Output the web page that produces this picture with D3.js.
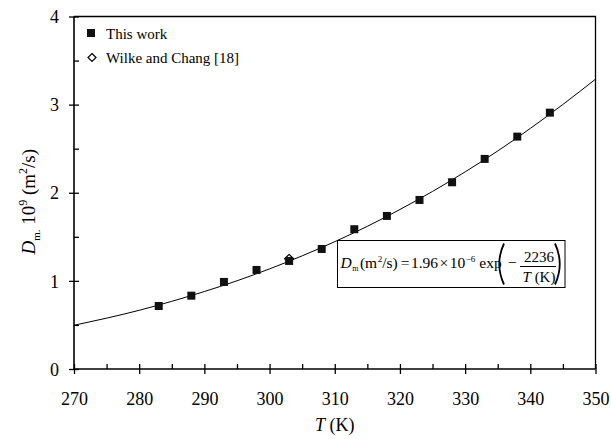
<!DOCTYPE html>
<html>
<head>
<meta charset="utf-8">
<script src="https://cdn.jsdelivr.net/npm/d3@7"></script>
<style>
  body { margin: 0; background: #fff; }
  svg { display: block; font-family: "Liberation Serif", "Times New Roman", serif; }
  text { font-family: "Liberation Serif", "Times New Roman", serif; fill: #000; }
</style>
</head>
<body>
<svg id="chart" width="611" height="439"></svg>
<script>
// ---- data ----
const thisWorkT = [283, 288, 293, 298, 303, 308, 313, 318, 323, 328, 333, 338, 343];
const thisWorkD = [0.715, 0.832, 0.988, 1.124, 1.226, 1.362, 1.586, 1.737, 1.918, 2.119, 2.384, 2.637, 2.909];
const wilkeT = [303];
const wilkeD = [1.25];
// fitted curve
const fitT = [270, 275, 280, 285, 290, 295, 300, 305, 310, 315, 320, 325, 330, 335, 340, 345, 350];
const fitD = [0.496, 0.577, 0.666, 0.768, 0.879, 1.001, 1.136, 1.284, 1.445, 1.619, 1.810, 2.015, 2.237, 2.474, 2.730, 3.002, 3.289];
const xMajorTicks = [270, 280, 290, 300, 310, 320, 330, 340, 350];
const xMinorTicks = [275, 285, 295, 305, 315, 325, 335, 345];
const yMajorTicks = [0, 1, 2, 3, 4];
const yMinorTicks = [0.5, 1.5, 2.5, 3.5];
const legendLabels = ["This work", "Wilke and Chang [18]"];

// ---- layout ----
const FONT = "Liberation Serif";
const svg = d3.select("#chart");
const L = 74, R = 595.5, T = 16.5, B = 369;
const x = d3.scaleLinear().domain([270, 350]).range([L, R]);
const y = d3.scaleLinear().domain([0, 4]).range([B, T]);

// frame (top & right)
svg.append("path")
  .attr("d", `M${L},${T}H${R}V${B}`)
  .attr("fill", "none").attr("stroke", "#000").attr("stroke-width", 1.3);

// x axis
const gx = svg.append("g").attr("transform", `translate(0,${B})`);
gx.call(d3.axisBottom(x).tickValues(xMajorTicks).tickSize(5).tickFormat(d3.format("d")));
gx.attr("font-family", FONT);
gx.selectAll(".tick line").attr("y1", -5).attr("y2", 5).attr("stroke-width", 1.3);
gx.selectAll(".tick text").attr("y", 36).attr("dy", 0).style("font-size", "18px")
  .style("font-family", FONT);
gx.select(".domain").attr("d", `M${L},0H${R}`).attr("stroke-width", 1.6);
const gxm = svg.append("g").attr("transform", `translate(0,${B})`);
gxm.call(d3.axisBottom(x).tickValues(xMinorTicks).tickSize(-5).tickFormat(""));
gxm.select(".domain").remove();
gxm.selectAll(".tick line").attr("stroke-width", 1.3);

// y axis
const gy = svg.append("g").attr("transform", `translate(${L},0)`);
gy.call(d3.axisLeft(y).tickValues(yMajorTicks).tickSize(5).tickFormat(d3.format("d")));
gy.attr("font-family", FONT);
gy.selectAll(".tick line").attr("x1", -5).attr("x2", 5).attr("stroke-width", 1.3);
gy.selectAll(".tick text").attr("x", -15).attr("dy", "0.34em").style("font-size", "18px")
  .style("font-family", FONT);
gy.select(".domain").attr("d", `M0,${B}V${T}`).attr("stroke-width", 1.6);
const gym = svg.append("g").attr("transform", `translate(${L},0)`);
gym.call(d3.axisLeft(y).tickValues(yMinorTicks).tickSize(-5).tickFormat(""));
gym.select(".domain").remove();
gym.selectAll(".tick line").attr("stroke-width", 1.3);

// axis titles
const xt = svg.append("text").attr("x", (L + R) / 2).attr("y", 431)
  .attr("text-anchor", "middle").style("font-size", "18px");
xt.append("tspan").style("font-style", "italic").text("T");
xt.append("tspan").text(" (K)");

const yt = svg.append("text")
  .attr("transform", `translate(35,${(T + B) / 2 + 9}) rotate(-90)`)
  .attr("text-anchor", "middle").style("font-size", "19px");
yt.append("tspan").style("font-style", "italic").text("D");
yt.append("tspan").attr("dy", 5).style("font-size", "11px").text("m.");
yt.append("tspan").attr("dy", -5).text(" 10");
yt.append("tspan").attr("dy", -8).style("font-size", "12px").text("9");
yt.append("tspan").attr("dy", 8).text(" (m");
yt.append("tspan").attr("dy", -8).style("font-size", "12px").text("2");
yt.append("tspan").attr("dy", 8).text("/s)");

// fit curve
const fit = fitT.map((t, i) => [t, fitD[i]]);
svg.append("path").datum(fit)
  .attr("d", d3.line().x(d => x(d[0])).y(d => y(d[1])).curve(d3.curveMonotoneX))
  .attr("fill", "none").attr("stroke", "#000").attr("stroke-width", 1);

// Wilke & Chang diamonds (drawn under the squares)
const wc = wilkeT.map((t, i) => [t, wilkeD[i]]);
svg.selectAll(".wc").data(wc).join("path").attr("class", "wc")
  .attr("transform", d => `translate(${x(d[0])},${y(d[1])})`)
  .attr("d", "M0,-4.5L4.5,0L0,4.5L-4.5,0Z")
  .attr("fill", "#fff").attr("stroke", "#000").attr("stroke-width", 1.2);

// This work squares
const tw = thisWorkT.map((t, i) => [t, thisWorkD[i]]);
svg.selectAll(".tw").data(tw).join("rect").attr("class", "tw")
  .attr("x", d => x(d[0]) - 4).attr("y", d => y(d[1]) - 4)
  .attr("width", 8).attr("height", 8).attr("fill", "#111");

// legend
const lg = svg.append("g");
lg.append("rect").attr("x", 87).attr("y", 29).attr("width", 8).attr("height", 8).attr("fill", "#111");
lg.append("path").attr("transform", "translate(92,57.5)").attr("d", "M0,-4L4,0L0,4L-4,0Z")
  .attr("fill", "#fff").attr("stroke", "#000").attr("stroke-width", 1.2);
lg.append("text").attr("x", 106).attr("y", 38.5).style("font-size", "15px").text(legendLabels[0]);
lg.append("text").attr("x", 106).attr("y", 62.5).style("font-size", "15px").text(legendLabels[1]);

// equation box
const eq = svg.append("g");
eq.append("rect").attr("x", 337.5).attr("y", 240.5).attr("width", 227.5).attr("height", 47)
  .attr("fill", "#fff").attr("stroke", "#000").attr("stroke-width", 1);
const base = 268;
let cx = 340.5;
function piece(str, size, italic, dyv, gapAfter) {
  const t = eq.append("text").attr("x", cx).attr("y", base + dyv)
    .style("font-size", size + "px").style("font-style", italic ? "italic" : "normal").text(str);
  cx += t.node().getComputedTextLength() + gapAfter;
}
piece("D", 15.5, true, 0, 0.5);
piece("m", 8, false, 2.5, 1.5);
piece("(m", 15.5, false, 0, 0.5);
piece("2", 9, false, -6.5, 0);
piece("/s)", 15.5, false, 0, 3);
piece("=", 15.5, false, 0, 1.5);
piece("1.96", 15.5, false, 0, 1.5);
piece("×", 15.5, false, 0, 1.5);
piece("10", 15.5, false, 0, 0.5);
piece("−6", 9, false, -6.5, 4);
piece("exp", 15.5, false, 0, 0);
eq.append("path").attr("d", "M504,243.5Q494.5,264 504,284.5").attr("fill", "none")
  .attr("stroke", "#000").attr("stroke-width", 1.8);
eq.append("path").attr("d", "M555,243.5Q564.5,264 555,284.5").attr("fill", "none")
  .attr("stroke", "#000").attr("stroke-width", 1.8);
eq.append("text").attr("x", 508).attr("y", base).style("font-size", "15.5px").text("−");
eq.append("text").attr("x", 539).attr("y", 262).attr("text-anchor", "middle").style("font-size", "15px").text("2236");
eq.append("line").attr("x1", 520).attr("x2", 556).attr("y1", 266.5).attr("y2", 266.5)
  .attr("stroke", "#000").attr("stroke-width", 1);
const e2 = eq.append("text").attr("x", 539).attr("y", 281.5).attr("text-anchor", "middle").style("font-size", "15px");
e2.append("tspan").style("font-style", "italic").text("T");
e2.append("tspan").text(" (K)");
</script>
</body>
</html>
